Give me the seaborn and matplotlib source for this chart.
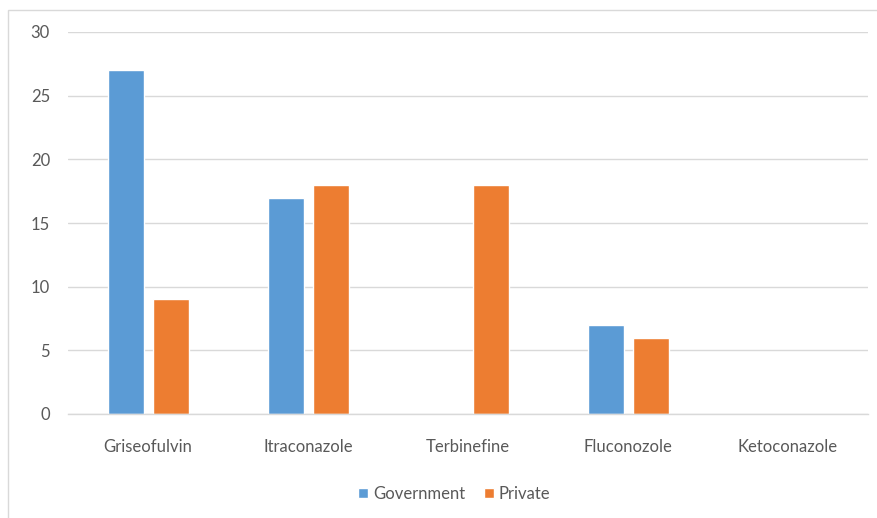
import matplotlib
matplotlib.use("Agg")
import matplotlib.pyplot as plt
import seaborn as sns
import pandas as pd
from matplotlib.patches import Rectangle

drugs = ["Griseofulvin", "Itraconazole", "Terbinefine", "Fluconozole", "Ketoconazole"]
government = [27, 17, 0, 7, 0]
private = [9, 18, 18, 6, 0]
sectors = ["Government", "Private"]
colors = ["#5B9BD5", "#ED7D31"]
y_ticks = [0, 5, 10, 15, 20, 25, 30]

df = pd.DataFrame({
    "Drug": drugs * 2,
    "Sector": [sectors[0]] * len(drugs) + [sectors[1]] * len(drugs),
    "Count": government + private,
})

sns.set_theme(style="white")
plt.rcParams["font.family"] = ["Lato", "DejaVu Sans"]
text_color = "#595959"

W, H = 877, 518
fig = plt.figure(figsize=(W / 100, H / 100), dpi=100)
ax = fig.add_axes([68 / W, 1 - 414 / H, (868 - 68) / W, (414 - 32) / H])

sns.barplot(data=df, x="Drug", y="Count", hue="Sector", palette=colors,
            width=0.5625, gap=0.2, ax=ax, saturation=1, legend=True)

ax.set_xlim(-0.5, 4.5)
ax.set_ylim(0, 30)
ax.set_yticks(y_ticks)
ax.set_xlabel("")
ax.set_ylabel("")
ax.yaxis.grid(True, color="#D9D9D9", linewidth=1)
ax.set_axisbelow(True)
for side in ["left", "right", "top"]:
    ax.spines[side].set_visible(False)
ax.spines["bottom"].set_color("#D9D9D9")
ax.spines["bottom"].set_linewidth(1)
ax.tick_params(axis="both", length=0, colors=text_color, labelsize=12)
ax.tick_params(axis="y", pad=13)
ax.tick_params(axis="x", pad=18)

leg = ax.legend(loc="center", bbox_to_anchor=(0.483, (414 - 494) / (414 - 32)),
                ncol=2, frameon=False, fontsize=12, handlelength=0.6,
                handleheight=0.6, handletextpad=0.3, columnspacing=1.1)
for t in leg.get_texts():
    t.set_color(text_color)

# chart border
fig.add_artist(Rectangle((8 / W, -0.1), 1.0, 1 - 10 / H + 0.1,
                         transform=fig.transFigure, fill=False,
                         edgecolor="#D9D9D9", linewidth=1))

fig.savefig("out.png", dpi=100, facecolor="white")
